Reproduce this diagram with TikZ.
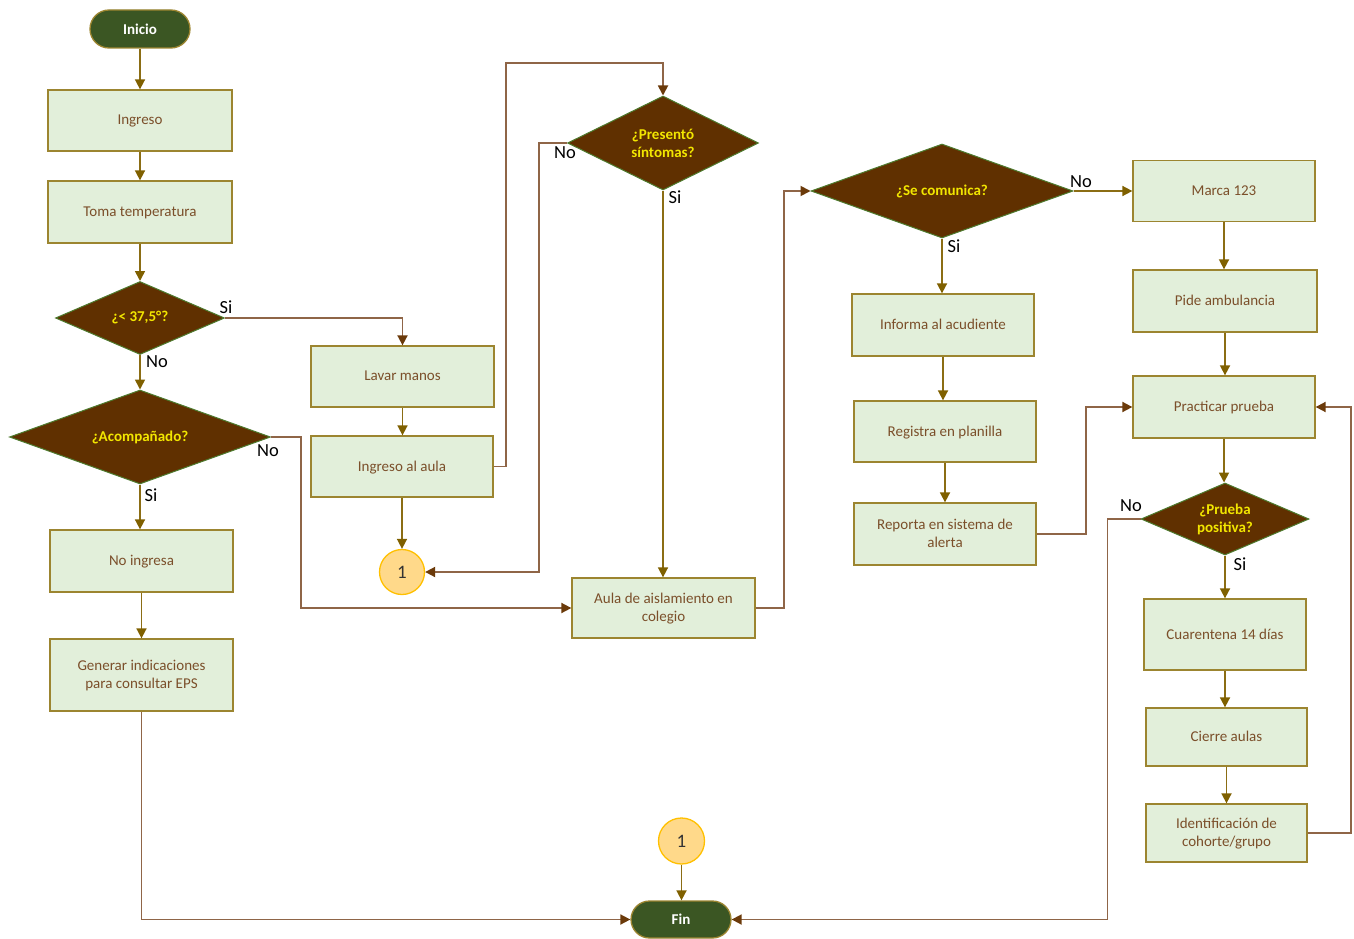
\documentclass[tikz,border=0pt]{standalone}
\usepackage{fontspec}
\setmainfont{Carlito}
\usetikzlibrary{shapes.geometric,arrows.meta}
\definecolor{boxfill}{HTML}{E2EFDA}
\definecolor{boxline}{HTML}{9C8530}
\definecolor{boxtext}{HTML}{7B4F2A}
\definecolor{decfill}{HTML}{603000}
\definecolor{decline}{HTML}{4E7A2E}
\definecolor{dectext}{HTML}{F2E600}
\definecolor{termfill}{HTML}{3B5623}
\definecolor{olive}{HTML}{8B6D14}
\definecolor{olivehead}{HTML}{7F6000}
\definecolor{brownline}{HTML}{8F6547}
\definecolor{brownhead}{HTML}{6B3A0A}
\definecolor{circfill}{HTML}{FFD98A}
\definecolor{circline}{HTML}{FFC000}
\tikzset{
  procbox/.style={draw=boxline, line width=1.3pt, fill=boxfill, text=boxtext,
    minimum width=183pt, minimum height=61pt, inner sep=2pt, align=center,
    text depth=1pt, font=\fontsize{15}{18}\selectfont},
  decbox/.style={diamond, draw=decline, line width=1pt, fill=decfill, text=dectext,
    inner sep=0pt, align=center, font=\bfseries\fontsize{15}{18}\selectfont},
  termbox/.style={draw=boxline, line width=1.3pt, fill=termfill, text=white,
    minimum width=100pt, minimum height=38pt, rounded corners=19pt, inner sep=0pt,
    font=\bfseries\fontsize{15}{18}\selectfont},
  conn/.style={circle, draw=circline, line width=1.3pt, fill=circfill, text=black!80,
    minimum size=45pt, inner sep=0pt, font=\fontsize{19}{22}\selectfont},
  lbl/.style={text=black, inner sep=0pt, font=\fontsize{18.5}{20}\selectfont},
  sarr/.style={draw=olive, line width=1.7pt, -{Triangle[length=10pt,width=10pt,color=olivehead]}},
  barr/.style={draw=brownline, line width=1.8pt, -{Triangle[length=10pt,width=10pt,color=brownhead]}},
}
\begin{document}
\begin{tikzpicture}[x=1pt,y=-1pt]
\useasboundingbox (0,0) rectangle (1354,939);
% column 1
\node[termbox] (ini) at (140,29) {Inicio};
\node[procbox, minimum width=184pt] (ing) at (140,120.5) {Ingreso};
\node[procbox, minimum width=184pt, minimum height=62pt] (toma) at (140,212) {Toma temperatura};
\node[decbox, minimum width=169pt, minimum height=73pt, aspect=2.3] (d1) at (140,318) {¿< 37,5°?};
\node[decbox, minimum width=261pt, minimum height=94pt, aspect=2.78] (acomp) at (140,437) {¿Acompañado?};
\node[procbox, minimum height=62pt] (noing) at (141.5,561) {No ingresa};
\node[procbox, minimum height=72pt] (gen) at (141.5,675) {Generar indicaciones\\para consultar EPS};
% column 2
\node[procbox] (lavar) at (402.5,376.5) {Lavar manos};
\node[procbox, minimum width=182pt] (ingaula) at (402,466.5) {Ingreso al aula};
\node[conn] (c1) at (402,572) {1};
% column 3
\node[decbox, minimum width=191pt, minimum height=94pt, aspect=2.03] (pres) at (663,143) {¿Presentó\\síntomas?};
\node[procbox, minimum height=60pt] (aula) at (663.5,608) {Aula de aislamiento en\\colegio};
\node[conn, minimum size=46pt] (c2) at (681.5,841) {1};
\node[termbox, minimum height=37pt, rounded corners=18.5pt] (fin) at (681,919.5) {Fin};
% column 4
\node[decbox, minimum width=262pt, minimum height=94pt, aspect=2.79] (secom) at (942,191) {¿Se comunica?};
\node[procbox, minimum width=182pt, minimum height=62pt] (inf) at (943,325) {Informa al acudiente};
\node[procbox, minimum width=182pt] (reg) at (945,431.5) {Registra en planilla};
\node[procbox, minimum width=182pt, minimum height=62pt] (rep) at (945,534) {Reporta en sistema de\\alerta};
% column 5
\node[procbox, minimum width=182pt] (marca) at (1224,191) {Marca 123};
\node[procbox, minimum width=184pt, minimum height=62pt] (pide) at (1225,301) {Pide ambulancia};
\node[procbox, minimum width=182pt, minimum height=62pt] (prac) at (1224,407) {Practicar prueba};
\node[decbox, minimum width=168pt, minimum height=72pt, aspect=2.33] (prueba) at (1225,519) {¿Prueba\\positiva?};
\node[procbox, minimum width=162pt, minimum height=71pt] (cuar) at (1225,634.5) {Cuarentena 14 días};
\node[procbox, minimum width=161pt, minimum height=58pt] (cierre) at (1226.5,737) {Cierre aulas};
\node[procbox, minimum width=161pt, minimum height=58pt] (ident) at (1226.5,833) {Identificación de\\cohorte/grupo};
% straight connectors
\draw[sarr] (ini) -- (ing);
\draw[sarr] (ing) -- (toma);
\draw[sarr] (toma) -- (d1);
\draw[sarr] (d1) -- (acomp);
\draw[sarr] (acomp.south) -- (acomp.south |- noing.north);
\draw[sarr] (noing) -- (gen);
\draw[sarr] (lavar.south) -- (lavar.south |- ingaula.north);
\draw[sarr] (ingaula.south) -- (ingaula.south |- c1.north);
\draw[sarr] (pres.south) -- (pres.south |- aula.north);
\draw[sarr] (c2.south) -- (c2.south |- fin.north);
\draw[sarr] (secom.east) -- (marca.west);
\draw[sarr] (secom.south) -- (secom.south |- inf.north);
\draw[sarr] (inf.south) -- (inf.south |- reg.north);
\draw[sarr] (reg) -- (rep);
\draw[sarr] (marca.south) -- (marca.south |- pide.north);
\draw[sarr] (pide.south) -- (pide.south |- prac.north);
\draw[sarr] (prac.south) -- (prac.south |- prueba.north);
\draw[sarr] (prueba) -- (cuar);
\draw[sarr] (cuar.south) -- (cuar.south |- cierre.north);
\draw[sarr] (cierre) -- (ident);
% elbow connectors
\coordinate (t1) at (506,63);
\draw[barr] (d1.east) -| (lavar.north);
\draw[barr] (acomp.east) -- ++(30,0) |- (aula.west);
\draw[barr] (gen.south) |- (fin.west);
\draw[barr] (ingaula.east) -| (t1) -| (pres.north);
\draw[barr] (pres.west) -- ++(-28,0) |- (c1.east);
\draw[barr] (aula.east) -- ++(28,0) |- (secom.west);
\draw[barr] (rep.east) -- ++(49,0) |- (prac.west);
\draw[barr] (prueba.west) -- ++(-33,0) |- (fin.east);
\draw[barr] (ident.east) -- ++(43,0) |- (prac.east);
% labels
\node[lbl] (l1) at (226,307) {Si};
\node[lbl] (l2) at (157,362) {No};
\node[lbl] (l3) at (268,451) {No};
\node[lbl] (l4) at (151,495) {Si};
\node[lbl] (l5) at (565,153) {No};
\node[lbl] (l6) at (675,197) {Si};
\node[lbl] (l7) at (1081,182) {No};
\node[lbl] (l8) at (954,246) {Si};
\node[lbl] (l9) at (1131,506) {No};
\node[lbl] (l10) at (1240,564) {Si};
\end{tikzpicture}
\end{document}
